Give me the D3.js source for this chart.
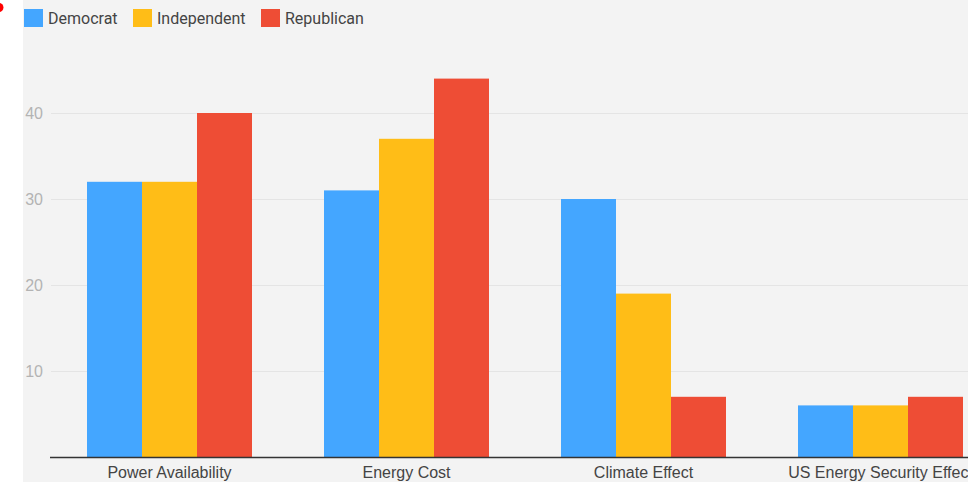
<!DOCTYPE html>
<html>
<head>
<meta charset="utf-8">
<script src="https://cdn.jsdelivr.net/npm/d3@7"></script>
<style>
  html, body { margin: 0; padding: 0; background: #ffffff; overflow: hidden; }
  svg { display: block; font-family: Roboto, "Noto Sans", sans-serif; }
</style>
</head>
<body>
<svg id="chart" width="968" height="482"></svg>
<script>
// Survey concerns by party affiliation
const categories = ["Power Availability", "Energy Cost", "Climate Effect", "US Energy Security Effect"];
const seriesNames = ["Democrat", "Independent", "Republican"];
const democrat    = [32, 31, 30, 6];
const independent = [32, 37, 19, 6];
const republican  = [40, 44, 7, 7];
const yTicks = [10, 20, 30, 40];
const colors = ["#44a6ff", "#ffbd17", "#ee4d35"];

const seriesValues = [democrat, independent, republican];
const rows = categories.map((c, i) => ({
  category: c,
  values: seriesNames.map((s, j) => ({ key: s, value: seriesValues[j][i] }))
}));

const svg = d3.select("#chart");
const W = 968, H = 482;

// panel background
svg.append("rect").attr("x", 23).attr("y", 0).attr("width", W - 23).attr("height", H).attr("fill", "#f3f3f3");

const plotLeft = 51, plotRight = 999, plotTop = 27, plotBottom = 457;

const x0 = d3.scaleBand().domain(categories).range([plotLeft, plotRight])
  .paddingInner(0.3038).paddingOuter(0.1519);
const x1 = d3.scaleBand().domain(seriesNames).range([0, x0.bandwidth()]);
const y = d3.scaleLinear().domain([0, 50]).range([plotBottom, plotTop]);
const color = d3.scaleOrdinal().domain(seriesNames).range(colors);

// gridlines and value labels
const yAxis = d3.axisLeft(y).tickValues(yTicks).tickSize(0).tickPadding(8);
const gy = svg.append("g").attr("transform", `translate(${plotLeft},0)`).call(yAxis);
gy.select(".domain").remove();
gy.selectAll("text").attr("fill", "#b3b3b3").style("font-size", "16px").attr("x", -8);
gy.selectAll(".tick").append("line")
  .attr("x1", 0).attr("x2", W - plotLeft)
  .attr("stroke", "#e4e4e4").attr("stroke-width", 1);

// bars
const groups = svg.append("g").selectAll("g").data(rows).join("g")
  .attr("transform", d => `translate(${x0(d.category)},0)`);
groups.selectAll("rect").data(d => d.values).join("rect")
  .attr("x", d => x1(d.key))
  .attr("width", x1.bandwidth())
  .attr("y", d => y(d.value))
  .attr("height", d => y(0) - y(d.value))
  .attr("fill", d => color(d.key));

// category axis
const xAxis = d3.axisBottom(x0).tickSize(0).tickPadding(10);
const gx = svg.append("g").attr("transform", `translate(0,${plotBottom})`).call(xAxis);
gx.select(".domain").attr("d", `M${plotLeft - 1},0.5H${W}`).attr("stroke", "#333").attr("stroke-width", 1.5);
gx.selectAll("text").attr("fill", "#444").style("font-size", "16px");

// legend
const legend = svg.append("g").attr("transform", "translate(24,9)");
const legendX = [0, 109, 237];
seriesNames.forEach((s, i) => {
  const g = legend.append("g").attr("transform", `translate(${legendX[i]},0)`);
  g.append("rect").attr("width", 19).attr("height", 18).attr("fill", color(s));
  g.append("text").attr("x", 24).attr("y", 15).attr("fill", "#444")
    .style("font-size", "16px").text(s);
});

// corner marker
svg.append("circle").attr("cx", -1).attr("cy", 7.5).attr("r", 4.5).attr("fill", "#ff0000");
</script>
</body>
</html>
